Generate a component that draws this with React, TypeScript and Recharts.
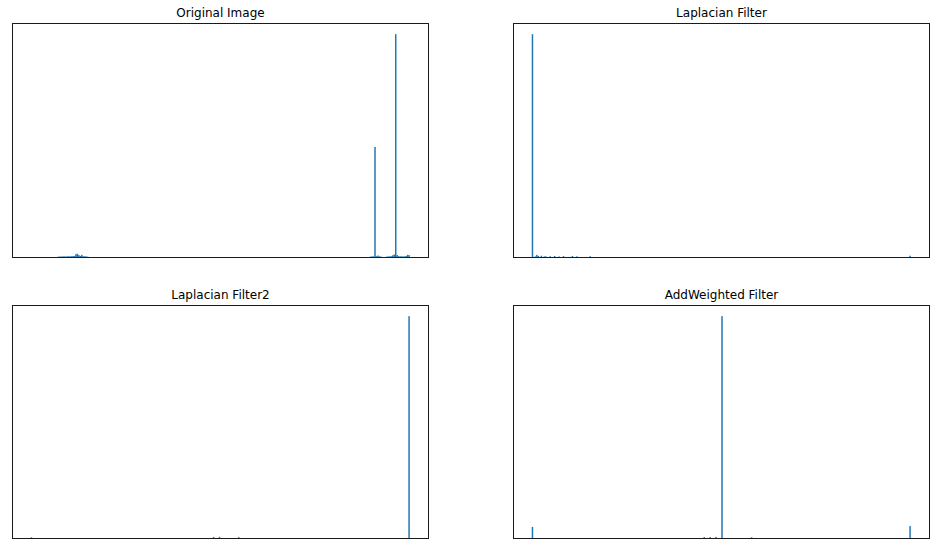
import { BarChart, Bar, XAxis, YAxis } from 'recharts';

// histogram bins (0..255) that are non-empty, with their counts
const originalBins = [18, 19, 20, 21, 22, 23, 24, 25, 26, 27, 28, 29, 30, 31, 32, 33, 34, 35, 36, 37, 38,
  229, 230, 231, 232, 233, 234, 235, 236,
  240, 241, 242, 243, 244, 245, 246, 247, 248, 249, 250, 251, 252, 253, 254, 255];
const originalCounts = [60, 65, 70, 70, 75, 70, 75, 80, 75, 80, 85, 90, 170, 190, 130, 90, 140, 80, 75, 70, 60,
  65, 70, 75, 4960, 80, 110, 75, 65,
  65, 70, 75, 80, 120, 150, 10000, 130, 80, 75, 75, 70, 75, 85, 140, 130];

const laplacianBins = [0, 1, 2, 3, 4, 6, 8, 9, 12, 15, 18, 21, 27, 30, 39, 255];
const laplacianCounts = [10000, 50, 70, 140, 90, 100, 70, 75, 80, 90, 70, 85, 90, 75, 80, 100];

const laplacian2Bins = [0, 123, 127, 140, 255];
const laplacian2Counts = [80, 90, 100, 85, 10000];

const addWeightedBins = [0, 116, 120, 124, 128, 148, 255];
const addWeightedCounts = [540, 85, 90, 95, 10000, 80, 580];

const makeHist = (bins: number[], counts: number[]) => {
  const rows = [] as { center: number; count: number }[];
  for (let i = 0; i < 256; i++) {
    const k = bins.indexOf(i);
    rows.push({ center: i + 0.5, count: k >= 0 ? counts[k] : 0 });
  }
  return rows;
};

const W = 417;
const BIN_W = W / 281.6;

const WideBar = (props: any) => {
  const { x, y, width, height, fill } = props;
  if (!height || height <= 0) return null;
  const cx = x + width / 2;
  return <rect x={cx - BIN_W / 2} y={y} width={BIN_W} height={height} fill={fill} />;
};

function Panel({ title, left, top, height, bins, counts }: any) {
  const data = makeHist(bins, counts);
  return (
    <>
      <div
        style={{
          position: 'absolute',
          left,
          top: top - 17,
          width: W,
          height: 14,
          lineHeight: '14px',
          textAlign: 'center',
          fontFamily: 'DejaVu Sans',
          fontSize: 12,
          color: '#000',
        }}
      >
        {title}
      </div>
      <div style={{ position: 'absolute', left, top, width: W, height }}>
        <BarChart width={W} height={height} data={data} margin={{ top: 0, right: 0, bottom: 0, left: 0 }} barCategoryGap={0}>
          <XAxis dataKey="center" type="number" domain={[-12.8, 268.8]} allowDataOverflow hide />
          <YAxis type="number" domain={[0, (m: number) => m * 1.05]} hide />
          <Bar dataKey="count" fill="#1f77b4" isAnimationActive={false} shape={WideBar} />
        </BarChart>
        <div
          style={{
            position: 'absolute',
            left: 0,
            top: 0,
            width: W,
            height,
            boxSizing: 'border-box',
            border: '1px solid #1a1a1a',
            pointerEvents: 'none',
          }}
        />
      </div>
    </>
  );
}

export default function App() {
  return (
    <div style={{ position: 'absolute', left: 0, top: 0, width: 938, height: 550, background: '#fff' }}>
      <Panel title="Original Image" left={12} top={23} height={235} bins={originalBins} counts={originalCounts} />
      <Panel title="Laplacian Filter" left={513} top={23} height={235} bins={laplacianBins} counts={laplacianCounts} />
      <Panel title="Laplacian Filter2" left={12} top={305} height={234} bins={laplacian2Bins} counts={laplacian2Counts} />
      <Panel title="AddWeighted Filter" left={513} top={305} height={234} bins={addWeightedBins} counts={addWeightedCounts} />
    </div>
  );
}
